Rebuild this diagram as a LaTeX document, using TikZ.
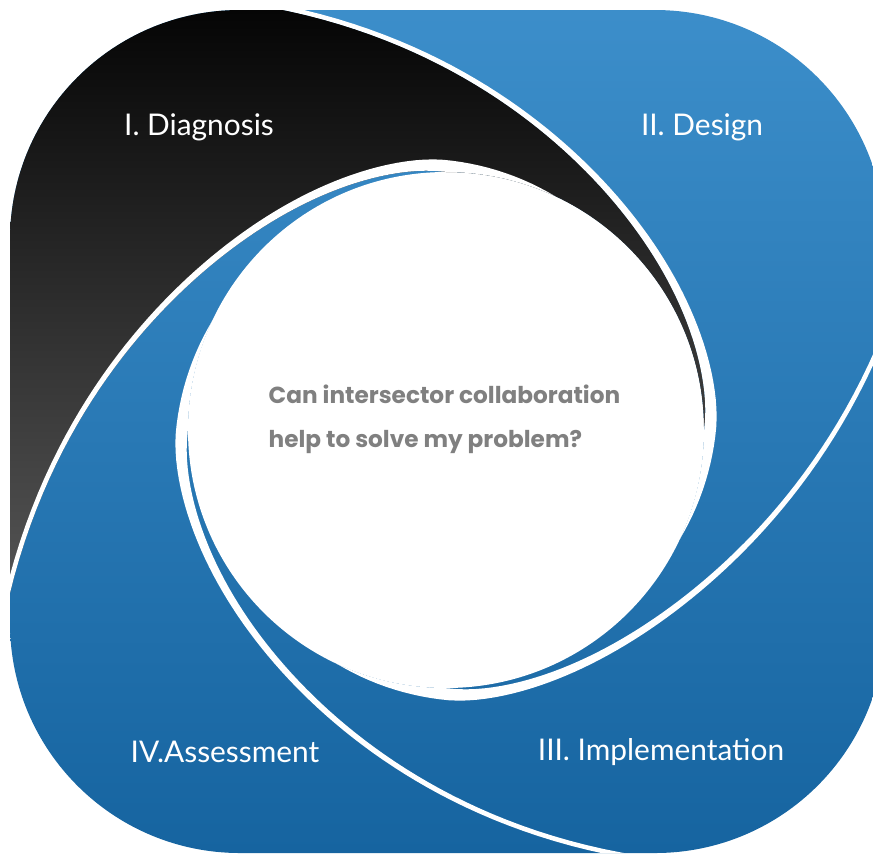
\documentclass[tikz,border=0pt]{standalone}
\usepackage{fontspec}
\setmainfont{Lato}
\newfontfamily\askfont{Poppins}
\definecolor{bluetop}{RGB}{60,142,202}
\definecolor{bluebot}{RGB}{22,100,160}
\definecolor{blacktop}{RGB}{5,5,5}
\definecolor{blackbot}{RGB}{85,85,85}
\definecolor{askgray}{RGB}{128,128,128}
\begin{document}
\begin{tikzpicture}[
    declare function={lrad(\t,\c)=2.58+\c*(max(\t,0)/90)^3+0.04*(1-exp(-max(\t,0)/6));
                      gapw(\t)=(0.05+0.07*exp(-max(\t,0)/35))*min(1,1+\t/25);},
    bluefill/.style={top color=bluetop, bottom color=bluebot},
    blackfill/.style={top color=blacktop, bottom color=blackbot},
    gap/.style={white, samples=90},
    phase/.style={text=white, font=\fontsize{8.5}{10}\selectfont},
    ask/.style={text=askgray, inner sep=0pt, align=left,
                font=\askfont\bfseries\fontsize{6.6}{12.5}\selectfont}
  ]
  \useasboundingbox (0,0) rectangle (8.73,8.56);
  \begin{scope}
    \clip[rounded corners=2.3cm] (0.10,0.03) rectangle (8.85,8.46);
    % blue ground
    \shade[bluefill] (0.10,0.03) rectangle (8.85,8.46);
    \begin{scope}[shift={(4.46,4.26)}]
      % white centre
      \fill[white] (0,0) circle (2.58);
      % black blade
      \begin{scope}
        \clip (-7,-2.6) -- plot[samples=90, domain=120:0] ({90+\x}:{lrad(\x,1.1)})
          arc[start angle=90, end angle=0, radius=2.58]
          -- plot[samples=90, domain=0:150] (\x:{lrad(\x,1.0)}) -- (-7,7) -- cycle;
        \shade[blackfill] (-4.36,-1.66) rectangle (4.39,4.20);
      \end{scope}
      % white gaps between the blades
      \fill[gap] plot[domain=-25:150] (\x:{lrad(\x,1.0)})
        -- plot[domain=150:-25] (\x:{lrad(\x,1.0)+gapw(\x)}) -- cycle;
      \fill[gap] plot[domain=-25:150] ({\x-90}:{lrad(\x,1.25)})
        -- plot[domain=150:-25] ({\x-90}:{lrad(\x,1.25)+gapw(\x)}) -- cycle;
      \fill[gap] plot[domain=-25:150] ({\x+180}:{lrad(\x,1.0)})
        -- plot[domain=150:-25] ({\x+180}:{lrad(\x,1.0)+gapw(\x)}) -- cycle;
      \fill[gap] plot[domain=-25:150] ({\x+90}:{lrad(\x,1.1)})
        -- plot[domain=150:-25] ({\x+90}:{lrad(\x,1.1)+gapw(\x)}) -- cycle;
    \end{scope}
  \end{scope}
  % labels
  \node[phase] (diag)   at (1.99,7.29) {I. Diagnosis};
  \node[phase] (design) at (7.02,7.29) {II. Design};
  \node[phase] (impl)   at (6.61,1.04) {III. Implementation};
  \node[phase] (assess) at (2.25,1.04) {IV.Assessment};
  \node[ask, anchor=west] (ask) at (2.68,4.37)
    {Can intersector collaboration\\help to solve my problem?};
\end{tikzpicture}
\end{document}
